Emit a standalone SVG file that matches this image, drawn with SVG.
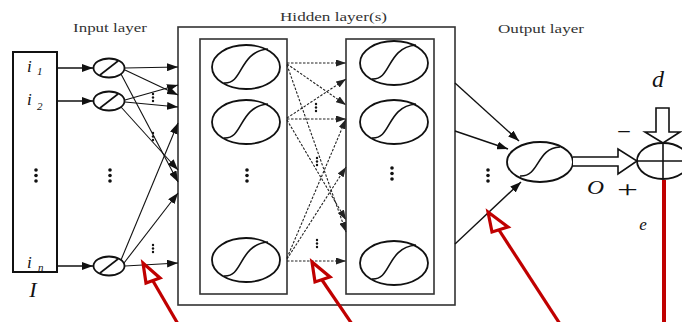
<svg xmlns="http://www.w3.org/2000/svg" width="682" height="322" viewBox="0 0 682 322">
<style>
.box{fill:none;stroke:#333;stroke-width:1.6}
.neu{fill:#fff;stroke:#111;stroke-width:1.8}
.cur{fill:none;stroke:#111;stroke-width:1.6}
.ln{fill:none;stroke:#111;stroke-width:1.1}
.dl{fill:none;stroke:#222;stroke-width:1.1;stroke-dasharray:2.5 1.5}
.lbl{font-family:"Liberation Serif",serif;font-size:12.5px;fill:#333}
.it{font-family:"Liberation Serif",serif;font-style:italic;fill:#111}
.red{fill:none;stroke:#c00000;stroke-width:3.2;stroke-linejoin:miter}
.dot{fill:#111}
</style>
<defs>
<marker id="ah" markerUnits="userSpaceOnUse" markerWidth="11" markerHeight="8" refX="11" refY="4" orient="auto"><path d="M0,0 L11,4 L0,8 Z" fill="#111"/></marker>
<marker id="ahd" markerUnits="userSpaceOnUse" markerWidth="10" markerHeight="7" refX="10" refY="3.5" orient="auto"><path d="M0,0 L10,3.5 L0,7 Z" fill="#222"/></marker>
<g id="dots3"><circle cx="0" cy="0" r="1.8"/><circle cx="0" cy="5.5" r="1.8"/><circle cx="0" cy="11" r="1.8"/></g>
<g id="dsm"><circle cx="0" cy="0" r="1.2"/><circle cx="0" cy="3.5" r="1.2"/><circle cx="0" cy="7" r="1.2"/></g>
</defs>

<!-- Titles -->
<text class="lbl" x="73" y="32" textLength="74" lengthAdjust="spacingAndGlyphs">Input layer</text>
<text class="lbl" x="280" y="21" textLength="107" lengthAdjust="spacingAndGlyphs" style="font-size:13.5px">Hidden layer(s)</text>
<text class="lbl" x="498" y="33" textLength="86" lengthAdjust="spacingAndGlyphs">Output layer</text>

<!-- Input vector -->
<g id="input-vector">
<rect x="13" y="52" width="44" height="220" style="fill:#fff;stroke:#111;stroke-width:2"/>
<text class="it" x="27" y="72" font-size="17">i</text><text class="it" x="37" y="75" font-size="11">1</text>
<text class="it" x="27" y="105" font-size="17">i</text><text class="it" x="37" y="110" font-size="11">2</text>
<text class="it" x="27" y="268" font-size="17">i</text><text class="it" x="38" y="271" font-size="11">n</text>
<use href="#dots3" x="36" y="170" class="dot"/>
<text class="it" x="33" y="297" font-size="22" text-anchor="middle">I</text>
</g>

<!-- Input neurons -->
<g id="in1"><ellipse class="neu" cx="109" cy="68" rx="15.5" ry="9.5"/><line class="cur" x1="100" y1="75" x2="118" y2="61"/></g>
<g id="in2"><ellipse class="neu" cx="109" cy="101" rx="15.5" ry="9.5"/><line class="cur" x1="100" y1="108" x2="118" y2="94"/></g>
<g id="inn"><ellipse class="neu" cx="109" cy="266" rx="15.5" ry="9.5"/><line class="cur" x1="100" y1="273" x2="118" y2="259"/></g>
<use href="#dots3" x="110" y="170" class="dot"/>

<!-- Hidden layers -->
<g id="hidden-outer"><rect class="box" x="178" y="27" width="277" height="278"/></g>
<g id="hidden-left">
<rect class="box" x="200" y="39" width="87" height="255"/>
<g><ellipse class="neu" cx="246" cy="67" rx="34" ry="22"/><path class="cur" d="M224,83 C244,84 238,52 268,49"/></g>
<g><ellipse class="neu" cx="246" cy="122" rx="34" ry="22"/><path class="cur" d="M224,138 C244,139 238,107 268,104"/></g>
<g><ellipse class="neu" cx="246" cy="260" rx="34" ry="22"/><path class="cur" d="M224,276 C244,277 238,245 268,242"/></g>
<use href="#dots3" x="247" y="170" class="dot"/>
</g>
<g id="hidden-right">
<rect class="box" x="346" y="39" width="88" height="255"/>
<g><ellipse class="neu" cx="394" cy="63" rx="34" ry="22"/><path class="cur" d="M372,79 C392,80 386,48 416,45"/></g>
<g><ellipse class="neu" cx="394" cy="122" rx="34" ry="22"/><path class="cur" d="M372,138 C392,139 386,107 416,104"/></g>
<g><ellipse class="neu" cx="394" cy="263" rx="34" ry="22"/><path class="cur" d="M372,279 C392,280 386,248 416,245"/></g>
<use href="#dots3" x="392" y="168" class="dot"/>
</g>

<!-- Output neuron -->
<g id="out"><ellipse class="neu" cx="540" cy="162" rx="33" ry="20"/><path class="cur" d="M520,176 C540,177 536,148 560,147"/></g>

<!-- Summing junction -->
<g id="sum">
<ellipse class="neu" cx="663" cy="161" rx="26" ry="18"/>
<line class="cur" x1="637" y1="161" x2="689" y2="161"/>
<line class="cur" x1="663" y1="143" x2="663" y2="179"/>
</g>

<!-- Connectors -->
<g id="connectors">
<line class="ln" x1="57" y1="68" x2="93" y2="68" marker-end="url(#ah)" style="stroke-width:1.6"/>
<line class="ln" x1="57" y1="101" x2="93" y2="101" marker-end="url(#ah)" style="stroke-width:1.6"/>
<line class="ln" x1="57" y1="266" x2="93" y2="266" marker-end="url(#ah)" style="stroke-width:1.6"/>

<line class="ln" x1="125" y1="68" x2="178" y2="67" marker-end="url(#ah)"/>
<line class="ln" x1="125" y1="70" x2="178" y2="95" marker-end="url(#ah)"/>
<line class="ln" x1="121" y1="74" x2="178" y2="182" marker-end="url(#ah)"/>
<line class="ln" x1="125" y1="100" x2="178" y2="85" marker-end="url(#ah)"/>
<line class="ln" x1="125" y1="102" x2="178" y2="107" marker-end="url(#ah)"/>
<line class="ln" x1="121" y1="107" x2="178" y2="170" marker-end="url(#ah)"/>
<line class="ln" x1="121" y1="260" x2="178" y2="123" marker-end="url(#ah)"/>
<line class="ln" x1="124" y1="263" x2="178" y2="193" marker-end="url(#ah)"/>
<line class="ln" x1="125" y1="266" x2="178" y2="263" marker-end="url(#ah)"/>
<use href="#dsm" x="153" y="94" class="dot"/>
<use href="#dsm" x="153" y="133" class="dot"/>
<use href="#dsm" x="153" y="245" class="dot"/>

<line class="dl" x1="287" y1="63" x2="346" y2="63" marker-end="url(#ahd)"/>
<line class="dl" x1="287" y1="64" x2="346" y2="105" marker-end="url(#ahd)"/>
<line class="dl" x1="287" y1="65" x2="346" y2="232" marker-end="url(#ahd)"/>
<line class="dl" x1="287" y1="118" x2="346" y2="79" marker-end="url(#ahd)"/>
<line class="dl" x1="287" y1="119" x2="346" y2="119" marker-end="url(#ahd)"/>
<line class="dl" x1="287" y1="120" x2="346" y2="220" marker-end="url(#ahd)"/>
<line class="dl" x1="287" y1="258" x2="346" y2="119" marker-end="url(#ahd)"/>
<line class="dl" x1="287" y1="259" x2="346" y2="167" marker-end="url(#ahd)"/>
<line class="dl" x1="287" y1="261" x2="346" y2="261" marker-end="url(#ahd)"/>
<use href="#dsm" x="316" y="104" class="dot"/>
<use href="#dsm" x="317" y="158" class="dot"/>
<use href="#dsm" x="317" y="240" class="dot"/>

<line class="ln" x1="455" y1="83" x2="519" y2="141" marker-end="url(#ah)" style="stroke-width:1.4"/>
<line class="ln" x1="455" y1="131" x2="508" y2="149" marker-end="url(#ah)" style="stroke-width:1.4"/>
<line class="ln" x1="455" y1="244" x2="521" y2="182" marker-end="url(#ah)" style="stroke-width:1.4"/>
<use href="#dots3" x="488" y="170" class="dot"/>

<path d="M573,157 L618,157 L618,149 L637,161 L618,174 L618,166 L573,166" style="fill:#fff;stroke:#111;stroke-width:1.6"/>
<path d="M656,108 L669,108 L669,132 L680,132 L663,143 L645,132 L656,132 Z" style="fill:#fff;stroke:#111;stroke-width:1.6"/>
<line x1="664" y1="180" x2="664" y2="322" style="stroke:#c00000;stroke-width:4"/>
</g>

<!-- Sum labels -->
<text class="it" x="658" y="87" font-size="24" text-anchor="middle">d</text>
<text x="617" y="139" font-family="Liberation Serif, serif" font-size="22" textLength="14" lengthAdjust="spacingAndGlyphs" fill="#111">−</text>
<text class="it" x="587" y="194" font-size="18" textLength="17" lengthAdjust="spacingAndGlyphs">O</text>
<text x="617" y="197" font-family="Liberation Serif, serif" font-size="24" textLength="21" lengthAdjust="spacingAndGlyphs" fill="#111">+</text>
<text class="it" x="643" y="230" font-size="17" text-anchor="middle">e</text>

<!-- Red arrows -->
<g id="red-arrows">
<g><path class="red" d="M143,263 L146,283 L160,278 Z" style="fill:#fff"/><line class="red" x1="153" y1="281" x2="178" y2="324"/></g>
<g><path class="red" d="M312,262 L315,282 L330,277 Z" style="fill:#fff"/><line class="red" x1="322" y1="280" x2="352" y2="324"/></g>
<g><path class="red" d="M488,212 L492,232 L508,227 Z" style="fill:#fff"/><line class="red" x1="499" y1="230" x2="560" y2="324"/></g>
</g>
</svg>
